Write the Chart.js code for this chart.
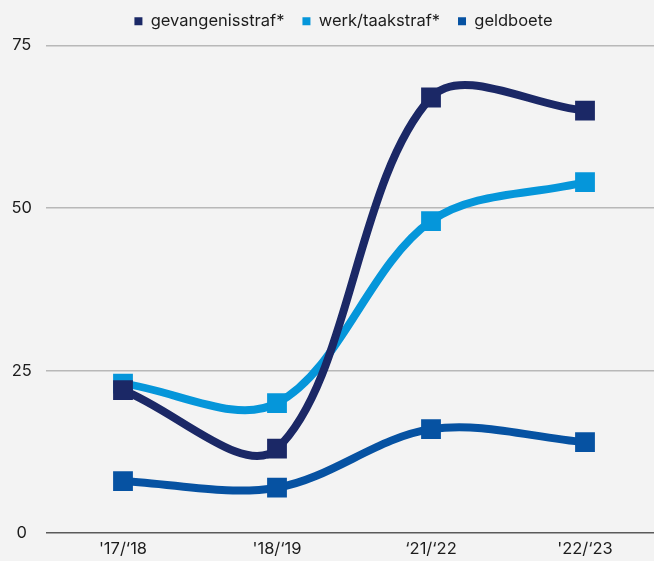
<!DOCTYPE html>
<html>
<head>
<meta charset="utf-8">
<script src="https://cdn.jsdelivr.net/npm/chart.js@4/dist/chart.umd.min.js"></script>
<style>
  html, body { margin: 0; padding: 0; background: #f3f3f3; }
  #wrap { width: 654px; height: 561px; }
</style>
</head>
<body>
<div id="wrap"><canvas id="chart" width="654" height="561"></canvas></div>
<script>
// Data
const periods = ["'17/\u201818", "'18/\u201819", "\u201821/\u201822", "'22/\u201823"];
const gevangenis = [22, 13, 67, 65];
const werkstraf = [23, 20, 48, 54];
const geldboete = [8, 7, 16, 14];
const yTicks = [0, 25, 50, 75];

const FONT = "'Inter', 'Roboto', sans-serif";
const TEXT = '#1c1c1c';

function toPoints(values) {
    return values.map((v, i) => ({ x: i, y: v }));
}

function series(label, values, color) {
    return {
        label: label,
        data: toPoints(values),
        borderColor: color,
        backgroundColor: color,
        pointBackgroundColor: color,
        pointBorderColor: color,
        borderWidth: 8,
        pointStyle: 'rect',
        pointRadius: 14,
        pointBorderWidth: 0,
        tension: 0.34
    };
}

// extra room under the legend, and nudge it right to sit over the plot
const legendSpacing = {
    id: 'legendSpacing',
    beforeInit(chart) {
        const fit = chart.legend.fit;
        chart.legend.fit = function () {
            fit.bind(chart.legend)();
            this.height += 6;
        };
    },
    afterLayout(chart) {
        chart.legend.left += 33;
    }
};

const ctx = document.getElementById('chart').getContext('2d');
new Chart(ctx, {
    type: 'line',
    data: {
        datasets: [
            series('gevangenisstraf*', gevangenis, '#1b2866'),
            series('werk/taakstraf*', werkstraf, '#0596da'),
            series('geldboete', geldboete, '#0652a2')
        ]
    },
    plugins: [legendSpacing],
    options: {
        responsive: false,
        animation: false,
        layout: { autoPadding: false, padding: { left: 0, right: 0, top: -5, bottom: -4 } },
        plugins: {
            legend: {
                position: 'top',
                align: 'center',
                labels: {
                    usePointStyle: true,
                    boxWidth: 8,
                    boxHeight: 8,
                    padding: 18,
                    color: TEXT,
                    font: { family: FONT, size: 16.5 }
                }
            },
            tooltip: { enabled: false }
        },
        scales: {
            x: {
                type: 'linear',
                min: -0.5,
                max: 3.448,
                afterBuildTicks: (scale) => {
                    scale.ticks = periods.map((p, i) => ({ value: i }));
                },
                ticks: {
                    color: TEXT,
                    font: { family: FONT, size: 16.5 },
                    padding: 6,
                    maxRotation: 0,
                    callback: (v) => periods[v]
                },
                grid: { display: false, drawTicks: false },
                border: { display: false }
            },
            y: {
                min: 0,
                max: 75,
                afterBuildTicks: (scale) => {
                    scale.ticks = yTicks.map(v => ({ value: v }));
                },
                afterFit: (scale) => { scale.width = 46; },
                ticks: {
                    color: TEXT,
                    font: { family: FONT, size: 16.5 },
                    padding: 14,
                    crossAlign: 'center'
                },
                grid: {
                    drawTicks: false,
                    lineWidth: 1.5,
                    color: (c) => c.tick && c.tick.value === 0 ? '#5a5a5a' : '#b8b8b8'
                },
                border: { display: false }
            }
        }
    }
});
</script>
</body>
</html>
